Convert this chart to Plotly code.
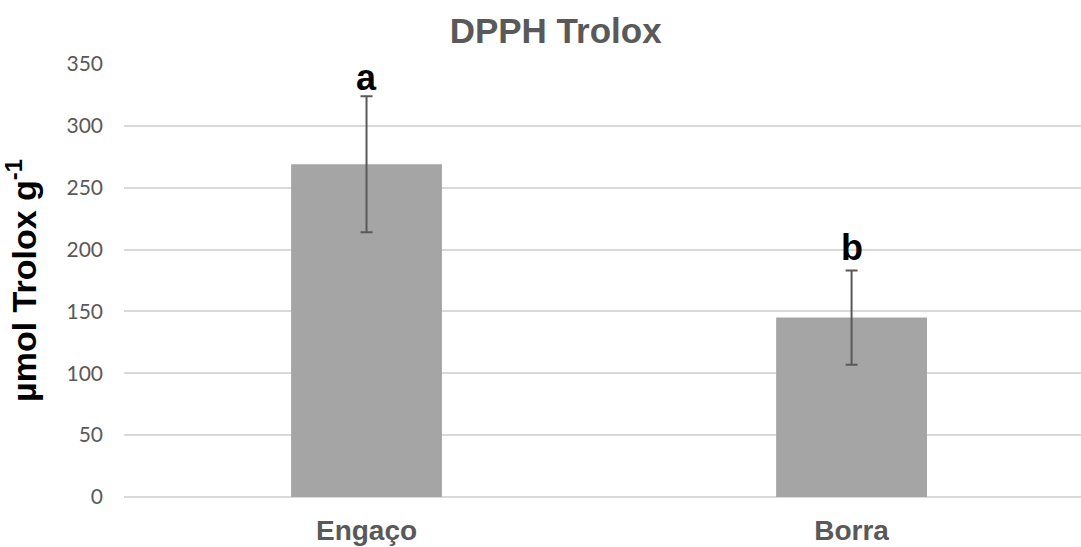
import plotly.graph_objects as go

categories = ["Engaço", "Borra"]
values = [269, 145]
errors = [55, 38]
letters = ["a", "b"]
letter_shift = [-4, 1]
y_ticks = [0, 50, 100, 150, 200, 250, 300, 350]

fig = go.Figure()
fig.add_trace(go.Bar(
    x=[0, 1], y=values, width=0.311,
    marker=dict(color="#A5A5A5", line=dict(width=0)),
    error_y=dict(type="data", array=errors, visible=True,
                 color="#595959", thickness=2, width=6),
    showlegend=False,
))

for i, (v, e, t) in enumerate(zip(values, errors, letters)):
    fig.add_annotation(x=i, y=v + e, text="<b>%s</b>" % t, showarrow=False,
                       xanchor="center", yanchor="bottom", yshift=letter_shift[i],
                       font=dict(family="Liberation Sans, Arial", size=36, color="#000000"))

fig.update_layout(
    width=1081, height=547,
    margin=dict(l=124, r=0, t=64, b=50, autoexpand=False),
    paper_bgcolor="white", plot_bgcolor="white",
    title=dict(text="<b>DPPH Trolox</b>", x=0.514, xref="container", xanchor="center",
               y=0.967, yref="container", yanchor="top",
               font=dict(family="Liberation Sans, Arial", size=35, color="#595959")),
    xaxis=dict(range=[-0.5, 1.473], tickvals=[0, 1],
               ticktext=["<b>%s</b>" % c for c in categories],
               showgrid=False, zeroline=False, showline=False, ticks="",
               ticklabelstandoff=14,
               tickfont=dict(family="Liberation Sans, Arial", size=28, color="#595959")),
    yaxis=dict(range=[0, 350], tickvals=y_ticks, showgrid=True, gridcolor="#D9D9D9",
               gridwidth=2, zeroline=True, zerolinecolor="#D9D9D9", zerolinewidth=2,
               showline=False, ticks="", ticklabelstandoff=20,
               tickfont=dict(family="Lato, Open Sans", size=21, color="#595959"),
               title=dict(text="<b>µmol Trolox g<sup>-1</sup></b>", standoff=20,
                          font=dict(family="Liberation Sans, Arial", size=34, color="#000000"))),
)

fig.write_html("out.html")
